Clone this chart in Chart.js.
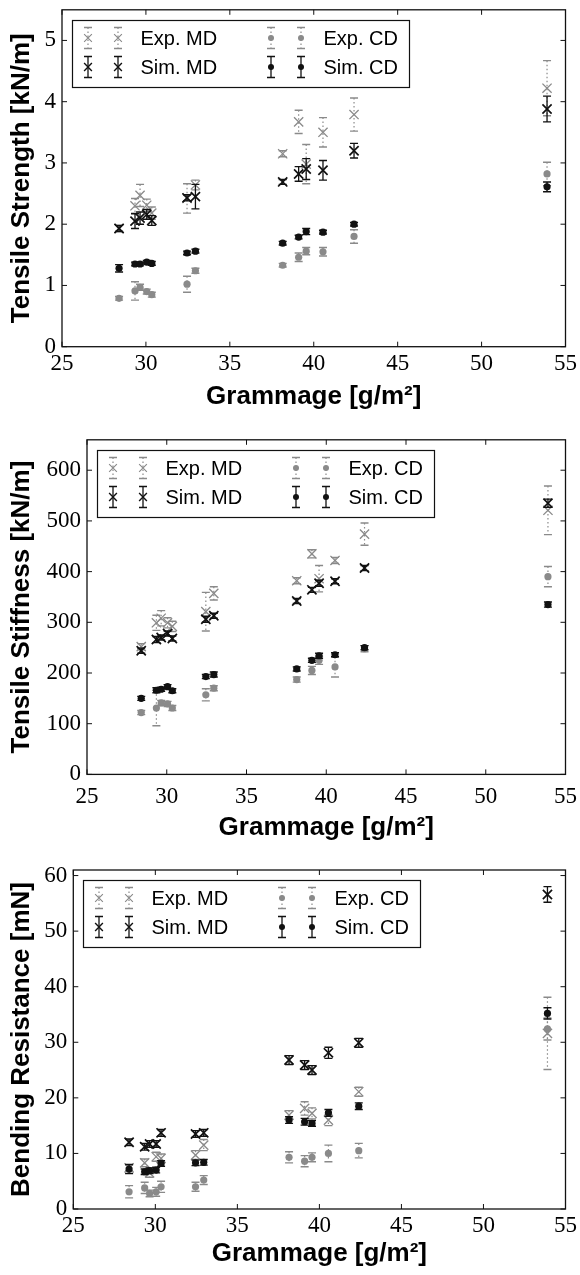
<!DOCTYPE html>
<html>
<head>
<meta charset="utf-8">
<script src="https://cdn.jsdelivr.net/npm/chart.js@4.4.1/dist/chart.umd.min.js"></script>
<style>
html,body{margin:0;padding:0;background:#fff;width:580px;height:1275px;overflow:hidden;position:relative}
.box{position:absolute;left:0;width:580px}
canvas{display:block}
</style>
</head>
<body>
<div class="box" style="top:-10px;height:430px"><canvas id="c1" width="580" height="430"></canvas></div>
<div class="box" style="top:420px;height:430px"><canvas id="c2" width="580" height="430"></canvas></div>
<div class="box" style="top:850px;height:425px"><canvas id="c3" width="580" height="425"></canvas></div>
<script>
// ---------------- DATA ----------------
const grammage = [28.4, 29.35, 29.65, 30.05, 30.35, 32.45, 32.95, 38.15, 39.1, 39.55, 40.55, 42.4, 53.9];
const xTicks = [25, 30, 35, 40, 45, 50, 55];
const legendLabels = ['Exp. MD', 'Sim. MD', 'Exp. CD', 'Sim. CD'];
const xTitle = 'Grammage [g/m²]';

// Tensile strength [kN/m]
const strengthTicks = [0, 1, 2, 3, 4, 5];
const strengthExpMD    = [1.93, 2.30, 2.47, 2.31, 2.18, 2.42, 2.64, 3.15, 3.67, 2.98, 3.50, 3.79, 4.22];
const strengthExpMDErr = [0.05, 0.12, 0.18, 0.10, 0.10, 0.24, 0.08, 0.05, 0.19, 0.32, 0.24, 0.27, 0.45];
const strengthSimMD    = [1.93, 2.05, 2.10, 2.16, 2.06, 2.43, 2.45, 2.69, 2.82, 2.90, 2.88, 3.20, 3.88];
const strengthSimMDErr = [0.05, 0.12, 0.10, 0.08, 0.08, 0.05, 0.20, 0.04, 0.12, 0.17, 0.16, 0.12, 0.21];
const strengthExpCD    = [0.79, 0.91, 0.97, 0.90, 0.85, 1.02, 1.24, 1.33, 1.46, 1.56, 1.55, 1.80, 2.82];
const strengthExpCDErr = [0.03, 0.15, 0.05, 0.04, 0.04, 0.13, 0.04, 0.03, 0.07, 0.06, 0.07, 0.11, 0.19];
const strengthSimCD    = [1.28, 1.35, 1.35, 1.38, 1.36, 1.53, 1.56, 1.69, 1.79, 1.88, 1.87, 2.00, 2.61];
const strengthSimCDErr = [0.06, 0.03, 0.03, 0.03, 0.03, 0.03, 0.03, 0.03, 0.03, 0.05, 0.03, 0.03, 0.08];

// Tensile stiffness [kN/m]
const stiffnessTicks = [0, 100, 200, 300, 400, 500, 600];
const stiffnessExpMD    = [252, 299, 308, 299, 292, 321, 357, 382, 435, 386, 422, 474, 521];
const stiffnessExpMDErr = [6, 15, 15, 10, 10, 38, 13, 6, 8, 26, 6, 22, 48];
const stiffnessSimMD    = [244, 266, 270, 278, 268, 306, 313, 342, 364, 377, 381, 407, 535];
const stiffnessSimMDErr = [5, 6, 5, 5, 5, 6, 5, 5, 5, 6, 5, 5, 8];
const stiffnessExpCD    = [122, 131, 141, 139, 131, 157, 170, 187, 205, 225, 212, 248, 390];
const stiffnessExpCDErr = [4, 35, 5, 5, 5, 12, 5, 5, 8, 8, 20, 6, 20];
const stiffnessSimCD    = [150, 166, 168, 173, 165, 193, 197, 208, 225, 234, 236, 250, 335];
const stiffnessSimCDErr = [4, 5, 4, 4, 4, 4, 5, 4, 4, 5, 4, 4, 5];

// Bending resistance [mN]
const bendingTicks = [0, 10, 20, 30, 40, 50, 60];
const bendingExpMD    = [7.4, 8.3, 6.5, 9.4, 9.1, 9.7, 11.5, 16.9, 18.1, 17.2, 16.0, 21.1, 31.6];
const bendingExpMDErr = [0.5, 0.7, 0.8, 0.8, 0.8, 0.8, 1.0, 0.8, 1.2, 1.0, 1.0, 0.8, 6.5];
const bendingSimMD    = [12.0, 11.2, 11.7, 11.7, 13.7, 13.5, 13.7, 26.8, 25.9, 25.0, 28.1, 29.9, 56.6];
const bendingSimMDErr = [0.6, 0.6, 0.6, 0.6, 0.6, 0.6, 0.6, 0.8, 0.8, 0.8, 1.0, 0.8, 1.4];
const bendingExpCD    = [3.1, 3.8, 2.8, 3.1, 4.0, 4.0, 5.2, 9.3, 8.6, 9.3, 10.0, 10.5, 32.4];
const bendingExpCDErr = [1.1, 1.0, 0.6, 0.8, 1.0, 0.8, 0.8, 1.0, 1.0, 0.8, 1.5, 1.3, 2.0];
const bendingSimCD    = [7.2, 6.7, 6.9, 7.0, 8.2, 8.3, 8.4, 16.0, 15.7, 15.4, 17.3, 18.5, 35.2];
const bendingSimCDErr = [0.8, 0.5, 0.5, 0.5, 0.5, 0.5, 0.5, 0.6, 0.6, 0.5, 0.6, 0.6, 1.0];

// ---------------- STYLE ----------------
const GRAY = '#8a8a8a';
const INK = '#111';
const FONT_TICK = "'Liberation Serif', 'DejaVu Serif', serif";
const FONT_SANS = "'Liberation Sans', 'DejaVu Sans', sans-serif";

function pts(ys) { return grammage.map((g, i) => ({ x: g, y: ys[i] })); }

function drawErr(ctx, kind, px, yTop, yBot) {
  ctx.save();
  if (kind === 'sim') { ctx.strokeStyle = INK; ctx.lineWidth = 1.3; ctx.setLineDash([]); }
  else { ctx.strokeStyle = GRAY; ctx.lineWidth = 1.2; ctx.setLineDash([1.5, 2.5]); }
  ctx.beginPath(); ctx.moveTo(px, yTop); ctx.lineTo(px, yBot); ctx.stroke();
  ctx.setLineDash([]);
  ctx.lineWidth = 1.4;
  const cw = 4;
  ctx.beginPath();
  ctx.moveTo(px - cw, yTop); ctx.lineTo(px + cw, yTop);
  ctx.moveTo(px - cw, yBot); ctx.lineTo(px + cw, yBot);
  ctx.stroke();
  ctx.restore();
}

function drawMarker(ctx, style, color, x, y, r, lw) {
  ctx.save();
  if (style === 'circle') {
    ctx.fillStyle = color; ctx.beginPath(); ctx.arc(x, y, r, 0, Math.PI * 2); ctx.fill();
  } else {
    const d = r * Math.SQRT1_2;
    ctx.strokeStyle = color; ctx.lineWidth = lw;
    ctx.beginPath();
    ctx.moveTo(x - d, y - d); ctx.lineTo(x + d, y + d);
    ctx.moveTo(x + d, y - d); ctx.lineTo(x - d, y + d);
    ctx.stroke();
  }
  ctx.restore();
}

const errorBarPlugin = {
  id: 'errorBars',
  beforeDatasetDraw(chart, args) {
    const ds = chart.data.datasets[args.index];
    if (!ds.errors) return;
    const { ctx } = chart;
    const x = chart.scales.x, y = chart.scales.y;
    ds.data.forEach((p, i) => {
      const e = ds.errors[i];
      drawErr(ctx, ds.kind, x.getPixelForValue(p.x), y.getPixelForValue(p.y + e), y.getPixelForValue(p.y - e));
    });
  }
};

const framePlugin = {
  id: 'frame',
  afterDraw(chart) {
    const { ctx, chartArea: a } = chart;
    const x = chart.scales.x, y = chart.scales.y;
    ctx.save();
    ctx.strokeStyle = INK; ctx.lineWidth = 1.3;
    ctx.strokeRect(a.left, a.top, a.right - a.left, a.bottom - a.top);
    ctx.lineWidth = 1;
    const tl = 5;
    ctx.beginPath();
    x.ticks.forEach(t => {
      const px = x.getPixelForValue(t.value);
      ctx.moveTo(px, a.bottom); ctx.lineTo(px, a.bottom - tl);
      ctx.moveTo(px, a.top); ctx.lineTo(px, a.top + tl);
    });
    y.ticks.forEach(t => {
      const py = y.getPixelForValue(t.value);
      ctx.moveTo(a.left, py); ctx.lineTo(a.left + tl, py);
      ctx.moveTo(a.right, py); ctx.lineTo(a.right - tl, py);
    });
    ctx.stroke();
    ctx.restore();
  }
};

const legendPlugin = {
  id: 'mplLegend',
  afterDraw(chart) {
    const { ctx, chartArea: a } = chart;
    const bx = Math.round(a.left + 10) + 0.5, by = Math.round(a.top + 10) + 0.5, bw = 337, bh = 67;
    ctx.save();
    ctx.fillStyle = '#fff'; ctx.fillRect(bx, by, bw, bh);
    ctx.strokeStyle = INK; ctx.lineWidth = 1.2; ctx.strokeRect(bx, by, bw, bh);
    const entries = [
      { label: legendLabels[0], kind: 'exp', style: 'cross', color: GRAY, col: 0, row: 0 },
      { label: legendLabels[1], kind: 'sim', style: 'cross', color: INK, col: 0, row: 1 },
      { label: legendLabels[2], kind: 'exp', style: 'circle', color: GRAY, col: 1, row: 0 },
      { label: legendLabels[3], kind: 'sim', style: 'circle', color: INK, col: 1, row: 1 }
    ];
    ctx.font = "20px " + FONT_SANS;
    ctx.textBaseline = 'middle';
    ctx.textAlign = 'left';
    entries.forEach(en => {
      const cx = bx + en.col * 183;
      const cy = by + 17.5 + en.row * 29;
      [15.5, 45.5].forEach(mx => {
        drawErr(ctx, en.kind, cx + mx, cy - 10.5, cy + 10.5);
        if (en.style === 'circle') drawMarker(ctx, 'circle', en.color, cx + mx, cy, 3, 0);
        else drawMarker(ctx, 'cross', en.color, cx + mx, cy, 5.5, en.kind === 'sim' ? 1.4 : 1.1);
      });
      ctx.fillStyle = '#000';
      ctx.fillText(en.label, cx + 68, cy + 1);
    });
    ctx.restore();
  }
};

function makeChart(id, geom, yTitle, yMax, yTicks, s) {
  const datasets = [
    { label: legendLabels[3], data: pts(s.simCD), errors: s.simCDErr, kind: 'sim',
      pointStyle: 'circle', pointRadius: 3.6, backgroundColor: INK, borderColor: INK, borderWidth: 0 },
    { label: legendLabels[2], data: pts(s.expCD), errors: s.expCDErr, kind: 'exp',
      pointStyle: 'circle', pointRadius: 3.6, backgroundColor: GRAY, borderColor: GRAY, borderWidth: 0 },
    { label: legendLabels[1], data: pts(s.simMD), errors: s.simMDErr, kind: 'sim',
      pointStyle: 'crossRot', pointRadius: 6.5, backgroundColor: INK, borderColor: INK, borderWidth: 1.7 },
    { label: legendLabels[0], data: pts(s.expMD), errors: s.expMDErr, kind: 'exp',
      pointStyle: 'crossRot', pointRadius: 6.5, backgroundColor: GRAY, borderColor: GRAY, borderWidth: 1.3 }
  ];
  return new Chart(document.getElementById(id), {
    type: 'scatter',
    data: { datasets },
    plugins: [errorBarPlugin, framePlugin, legendPlugin],
    options: {
      responsive: false,
      animation: false,
      devicePixelRatio: 1,
      layout: { padding: { top: geom.padTop, right: 13, left: 0, bottom: 0 } },
      plugins: { legend: { display: false }, tooltip: { enabled: false } },
      scales: {
        x: {
          type: 'linear', min: 25, max: 55,
          afterBuildTicks: sc => { sc.ticks = xTicks.map(v => ({ value: v })); },
          afterFit: sc => { sc.height = geom.xHeight; },
          grid: { display: false, drawTicks: false }, border: { display: false },
          ticks: { autoSkip: false, maxRotation: 0, padding: 3, color: '#000',
                   font: { family: FONT_TICK, size: 23, lineHeight: geom.xTickLH } },
          title: { display: true, text: xTitle, color: '#000',
                   font: { family: FONT_SANS, size: 26, weight: 'bold' },
                   padding: { top: 0, bottom: geom.xTitlePad } }
        },
        y: {
          type: 'linear', min: 0, max: yMax,
          afterBuildTicks: sc => { sc.ticks = yTicks.map(v => ({ value: v })); },
          afterFit: sc => { sc.width = geom.left; },
          grid: { display: false, drawTicks: false }, border: { display: false },
          ticks: { autoSkip: false, padding: 6, color: '#000',
                   font: { family: FONT_TICK, size: 23 } },
          title: { display: true, text: yTitle, color: '#000',
                   font: { family: FONT_SANS, size: 26, weight: 'bold' },
                   padding: { top: 6, bottom: 0 } }
        }
      }
    }
  });
}

makeChart('c1', { padTop: 15.7, left: 62, xHeight: 73.3, xTickLH: 1.2, xTitlePad: 8 },
  'Tensile Strength [kN/m]', 5.5, strengthTicks,
  { expMD: strengthExpMD, expMDErr: strengthExpMDErr, simMD: strengthSimMD, simMDErr: strengthSimMDErr,
    expCD: strengthExpCD, expCDErr: strengthExpCDErr, simCD: strengthSimCD, simCDErr: strengthSimCDErr });

makeChart('c2', { padTop: 13, left: 87, xHeight: 75.6, xTickLH: 1.72, xTitlePad: 7 },
  'Tensile Stiffness [kN/m]', 660, stiffnessTicks,
  { expMD: stiffnessExpMD, expMDErr: stiffnessExpMDErr, simMD: stiffnessSimMD, simMDErr: stiffnessSimMDErr,
    expCD: stiffnessExpCD, expCDErr: stiffnessExpCDErr, simCD: stiffnessSimCD, simCDErr: stiffnessSimCDErr });

makeChart('c3', { padTop: 20, left: 73.3, xHeight: 66, xTickLH: 1.2, xTitlePad: 6 },
  'Bending Resistance [mN]', 61, bendingTicks,
  { expMD: bendingExpMD, expMDErr: bendingExpMDErr, simMD: bendingSimMD, simMDErr: bendingSimMDErr,
    expCD: bendingExpCD, expCDErr: bendingExpCDErr, simCD: bendingSimCD, simCDErr: bendingSimCDErr });
</script>
</body>
</html>
